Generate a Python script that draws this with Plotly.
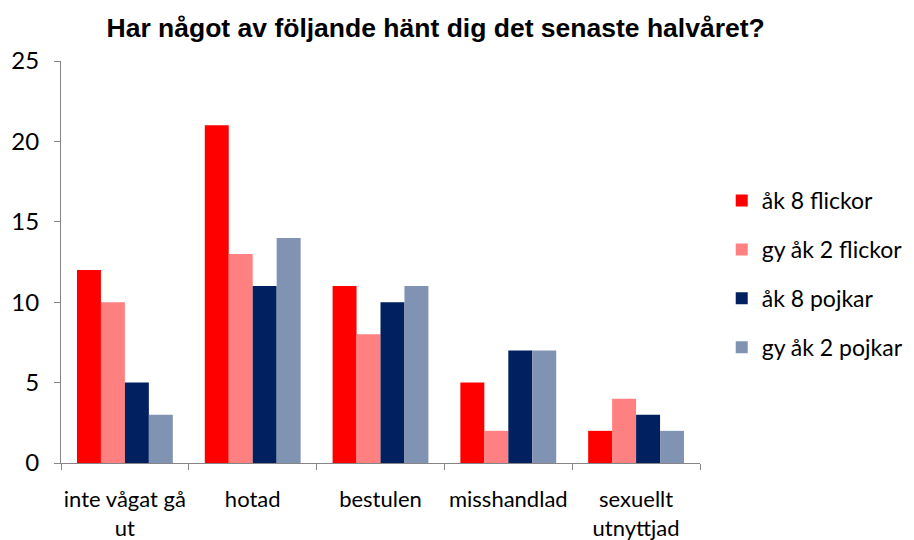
import plotly.graph_objects as go

categories = ["inte vågat gå<br>ut", "hotad", "bestulen", "misshandlad", "sexuellt<br>utnyttjad"]
series_names = ["åk 8 flickor", "gy åk 2 flickor", "åk 8 pojkar", "gy åk 2 pojkar"]
ak8_flickor = [12, 21, 11, 5, 2]
gy2_flickor = [10, 13, 8, 2, 4]
ak8_pojkar = [5, 11, 10, 7, 3]
gy2_pojkar = [3, 14, 11, 7, 2]
colors = ["#FF0000", "#FF8080", "#002060", "#8093B3"]

fig = go.Figure()
for name, vals, c in zip(series_names, [ak8_flickor, gy2_flickor, ak8_pojkar, gy2_pojkar], colors):
    fig.add_trace(go.Bar(name=name, x=categories, y=vals, legendgroup=name,
                         marker=dict(color=c, line=dict(width=0))))

font_body = "Lato, 'Open Sans', sans-serif"
fig.update_layout(
    width=906, height=532,
    barmode="group", bargap=0.25, bargroupgap=0,
    plot_bgcolor="white", paper_bgcolor="white",
    margin=dict(l=53, r=214, t=53, b=77, autoexpand=False),
    title=dict(text="<b>Har något av följande hänt dig det senaste halvåret?</b>",
               x=0.472, xanchor="center", y=0.962, yanchor="middle",
               font=dict(family="Liberation Sans, Arial, sans-serif", size=26.5, color="black")),
    legend=dict(x=1.034, y=0.47, xanchor="left", yanchor="middle",
                font=dict(family=font_body, size=23, color="black"),
                traceorder="grouped", tracegroupgap=16, itemsizing="constant"),
    font=dict(family=font_body, size=23, color="black"),
)
fig.update_xaxes(showline=True, linecolor="#868686", linewidth=1, automargin=False,
                 ticks="outside", tickson="boundaries", ticklen=6, tickcolor="#868686",
                 tickangle=0, ticklabelstandoff=17,
                 tickfont=dict(family=font_body, size=22, color="black"))
fig.update_yaxes(range=[0, 25], dtick=5, showgrid=False, zeroline=False, automargin=False,
                 showline=True, linecolor="#868686", linewidth=1,
                 ticks="outside", ticklen=6, tickcolor="#868686", ticklabelstandoff=10,
                 tickfont=dict(family=font_body, size=24, color="black"))

fig.write_html("out.html")
